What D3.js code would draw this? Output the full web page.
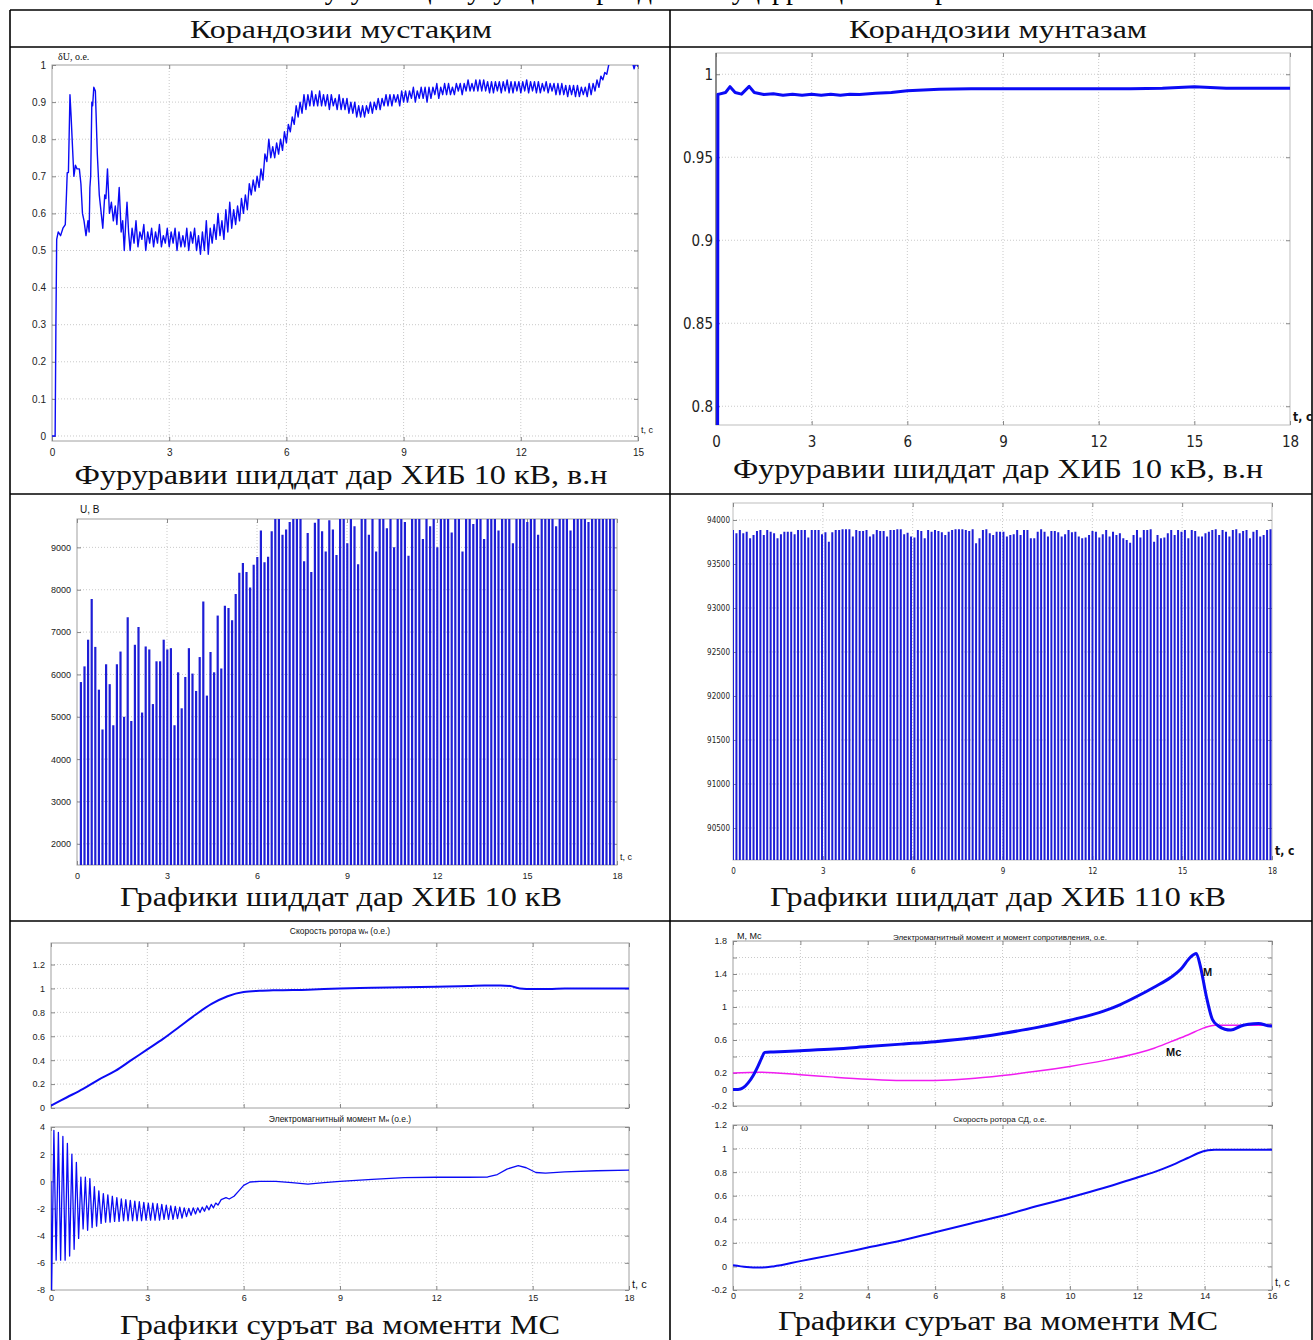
<!DOCTYPE html>
<html><head><meta charset="utf-8">
<script src="https://cdn.jsdelivr.net/npm/d3@7"></script>
<style>
body{margin:0;background:#fff}
svg{display:block}
</style></head><body>
<script>
// ---------- data ----------
var headers = ['Корандозии мустақим', 'Корандозии мунтазам'];
var captions = ['Фуруравии шиддат дар ХИБ 10 кВ, в.н', 'Фуруравии шиддат дар ХИБ 10 кВ, в.н',
                'Графики шиддат дар ХИБ 10 кВ', 'Графики шиддат дар ХИБ 110 кВ',
                'Графики суръат ва моменти МС', 'Графики суръат ва моменти МС'];

// panel 1: voltage dip, direct start (t, value)
var p1T = [0, 0.08, 0.1, 0.12, 0.16, 0.22, 0.28, 0.34, 0.37, 0.39, 0.42, 0.46, 0.49, 0.52, 0.56, 0.6, 0.64, 0.7, 0.74, 0.78, 0.82, 0.87, 0.92, 0.95, 0.97, 0.99, 1.02, 1.04, 1.07, 1.11, 1.16, 1.21, 1.26, 1.3, 1.35, 1.38, 1.42, 1.47, 1.52, 1.57, 1.62, 1.66, 1.72, 1.77, 1.81, 1.85, 1.89, 1.92, 1.96];
var p1V = [0, 0, 0.3, 0.53, 0.55, 0.54, 0.56, 0.57, 0.65, 0.71, 0.71, 0.92, 0.86, 0.79, 0.7, 0.73, 0.72, 0.72, 0.68, 0.6, 0.58, 0.54, 0.58, 0.55, 0.67, 0.7, 0.9, 0.89, 0.94, 0.93, 0.76, 0.65, 0.6, 0.56, 0.65, 0.64, 0.72, 0.6, 0.63, 0.58, 0.62, 0.57, 0.67, 0.55, 0.58, 0.5, 0.58, 0.63, 0.55];
// from 2.0 s on, one sample every 0.05 s (one row = 0.5 s)
var p1BandStart = 2.0, p1BandStep = 0.05;
var p1Band = [
  0.50, 0.56, 0.52, 0.58, 0.51, 0.55, 0.53, 0.57, 0.50, 0.55,
  0.52, 0.56, 0.51, 0.55, 0.52, 0.57, 0.51, 0.54, 0.52, 0.56,
  0.51, 0.55, 0.52, 0.56, 0.50, 0.55, 0.51, 0.54, 0.51, 0.56,
  0.50, 0.55, 0.52, 0.56, 0.50, 0.54, 0.49, 0.55, 0.50, 0.58,
  0.49, 0.56, 0.52, 0.57, 0.53, 0.60, 0.54, 0.58, 0.53, 0.61,
  0.55, 0.63, 0.56, 0.61, 0.57, 0.62, 0.58, 0.64, 0.60, 0.65,
  0.61, 0.68, 0.65, 0.69, 0.66, 0.70, 0.67, 0.72, 0.69, 0.76,
  0.74, 0.80, 0.75, 0.78, 0.75, 0.79, 0.76, 0.80, 0.77, 0.82,
  0.79, 0.84, 0.82, 0.86, 0.84, 0.89, 0.86, 0.90, 0.87, 0.92,
  0.88, 0.92, 0.89, 0.93, 0.89, 0.92, 0.89, 0.93, 0.89, 0.92,
  0.89, 0.92, 0.88, 0.92, 0.89, 0.91, 0.88, 0.92, 0.88, 0.91,
  0.88, 0.91, 0.87, 0.90, 0.87, 0.90, 0.86, 0.89, 0.86, 0.89,
  0.86, 0.89, 0.87, 0.90, 0.87, 0.90, 0.88, 0.91, 0.88, 0.91,
  0.89, 0.92, 0.89, 0.92, 0.89, 0.92, 0.90, 0.92, 0.89, 0.93,
  0.90, 0.93, 0.90, 0.93, 0.91, 0.94, 0.90, 0.93, 0.91, 0.94,
  0.91, 0.94, 0.90, 0.94, 0.91, 0.94, 0.92, 0.95, 0.91, 0.94,
  0.92, 0.95, 0.92, 0.95, 0.92, 0.94, 0.92, 0.95, 0.93, 0.95,
  0.92, 0.95, 0.93, 0.96, 0.93, 0.95, 0.93, 0.96, 0.93, 0.96,
  0.93, 0.96, 0.93, 0.955, 0.925, 0.955, 0.925, 0.955, 0.93, 0.955,
  0.925, 0.955, 0.93, 0.96, 0.925, 0.955, 0.925, 0.955, 0.93, 0.955,
  0.925, 0.955, 0.93, 0.96, 0.925, 0.955, 0.93, 0.955, 0.925, 0.955,
  0.925, 0.95, 0.93, 0.955, 0.925, 0.95, 0.93, 0.95, 0.92, 0.95,
  0.92, 0.95, 0.92, 0.945, 0.915, 0.945, 0.92, 0.945, 0.915, 0.945,
  0.915, 0.94, 0.92, 0.94, 0.915, 0.95, 0.92, 0.95, 0.93, 0.96,
  0.94, 0.97, 0.96, 0.98, 0.975, 1.0, 1.01, 1.01, 1.01, 1.01,
  1.01, 1.01, 1.01, 1.01, 1.01, 1.01, 1.01, 1.01, 0.99, 1.01,
  0.995];

// panel 2: voltage dip, soft start
var p2T = [0, 0.05, 0.06, 0.1, 0.3, 0.44, 0.6, 0.8, 1.04, 1.2, 1.5, 1.8, 2.1, 2.4, 2.7, 3, 3.3, 3.6, 3.9, 4.2, 4.5, 5, 5.5, 6, 6.5, 7, 8, 9, 10, 11, 12, 13, 14, 14.5, 15, 15.5, 16, 17, 18];
var p2V = [0.78, 0.78, 0.988, 0.988, 0.989, 0.9925, 0.989, 0.988, 0.9927, 0.989, 0.9878, 0.9882, 0.9874, 0.988, 0.9873, 0.9879, 0.9873, 0.9879, 0.9874, 0.988, 0.9878, 0.9885, 0.989, 0.99, 0.9905, 0.991, 0.9913, 0.9913, 0.9912, 0.9912, 0.9912, 0.9912, 0.9915, 0.992, 0.9925, 0.992, 0.9915, 0.9915, 0.9915];

// panel 3: 10 kV bus voltage peaks, V (first peak at 0.13 s, every 0.12 s)
var p3Start = 0.13, p3Step = 0.12;
var p3V = [5820, 6190, 6820, 7780, 6650, 5640, 4700, 6240, 5770, 4800,
  6240, 6540, 5000, 7350, 4900, 6700, 7120, 5100, 6660, 6590,
  5300, 6310, 6310, 6820, 6590, 6620, 4800, 6050, 5200, 5940,
  6620, 6020, 5610, 6410, 7720, 5500, 6530, 6050, 7390, 6140,
  7620, 7570, 7280, 7900, 8400, 8630, 8420, 8050, 8590, 8770,
  9400, 8650, 8780, 9380, 9700, 9700, 9300, 9420, 9600, 9700,
  9700, 9700, 8670, 9340, 8420, 9580, 9700, 9380, 8900, 9640,
  9420, 8820, 9700, 9700, 9100, 9700, 9500, 8600, 9700, 9700,
  9300, 9700, 8900, 9700, 9700, 9450, 9700, 9000, 9700, 9700,
  9600, 8800, 9700, 9700, 9700, 9200, 9700, 9500, 9700, 9000,
  9700, 9700, 9700, 9350, 9700, 9700, 8900, 9700, 9700, 9550,
  9700, 9700, 9200, 9700, 9700, 9700, 9400, 9700, 9700, 9700,
  9100, 9700, 9700, 9700, 9600, 9700, 9700, 9300, 9700, 9700,
  9700, 9700, 9500, 9700, 9700, 9700, 9400, 9700, 9700, 9700,
  9700, 9600, 9700, 9700, 9700, 9700, 9700, 9700, 9700];

// panel 4: 110 kV bus voltage peaks, V (0 .. 17.95 s)
var p4End = 17.95;
var p4V = [93886, 93850, 93886, 93850, 93867, 93792, 93830, 93875, 93886, 93830,
  93886, 93867, 93850, 93792, 93837, 93867, 93867, 93867, 93837, 93886,
  93886, 93886, 93800, 93886, 93886, 93886, 93837, 93860, 93754, 93860,
  93886, 93886, 93895, 93895, 93895, 93811, 93886, 93875, 93875, 93886,
  93811, 93837, 93886, 93875, 93875, 93811, 93886, 93886, 93895, 93895,
  93837, 93856, 93811, 93800, 93886, 93875, 93792, 93886, 93867, 93886,
  93875, 93860, 93830, 93867, 93886, 93895, 93895, 93895, 93886, 93875,
  93895, 93735, 93792, 93886, 93895, 93850, 93830, 93867, 93867, 93867,
  93811, 93830, 93837, 93886, 93830, 93886, 93886, 93792, 93792, 93867,
  93895, 93867, 93811, 93875, 93875, 93860, 93811, 93837, 93886, 93860,
  93867, 93811, 93792, 93800, 93830, 93875, 93867, 93800, 93837, 93886,
  93811, 93867, 93830, 93850, 93792, 93773, 93742, 93830, 93886, 93800,
  93886, 93886, 93895, 93754, 93830, 93792, 93800, 93850, 93886, 93830,
  93886, 93867, 93886, 93792, 93886, 93875, 93811, 93811, 93850, 93867,
  93886, 93895, 93830, 93886, 93867, 93811, 93886, 93895, 93850, 93875,
  93886, 93792, 93867, 93886, 93811, 93830, 93886, 93895];

// panel 5: rotor speed and torque, direct start
var p5wT = [0, 0.5, 1, 1.5, 2, 2.5, 3, 3.5, 4, 4.5, 5, 5.5, 6, 6.5, 7, 8, 9, 10, 11, 12, 13, 13.5, 14, 14.3, 14.6, 15, 15.5, 16, 17, 18];
var p5wV = [0.02, 0.09, 0.16, 0.24, 0.31, 0.4, 0.49, 0.58, 0.68, 0.78, 0.87, 0.935, 0.97, 0.98, 0.985, 0.99, 1.0, 1.005, 1.01, 1.015, 1.02, 1.025, 1.025, 1.02, 1.0, 0.995, 0.995, 1.0, 1.0, 1.0];
var p5mT = [0, 0.02, 0.09, 0.16, 0.23, 0.30, 0.37, 0.44, 0.51, 0.58, 0.65, 0.72, 0.79, 0.86, 0.93, 1.00, 1.07, 1.14, 1.21, 1.28, 1.35, 1.42, 1.49, 1.56, 1.63, 1.70, 1.77, 1.84, 1.91, 1.98,
  2.05, 2.12, 2.19, 2.26, 2.33, 2.40, 2.47, 2.54, 2.61, 2.68, 2.75, 2.82, 2.89, 2.96, 3.03, 3.10, 3.17, 3.24, 3.31, 3.38, 3.45, 3.52, 3.59, 3.66, 3.73, 3.80, 3.87, 3.94, 4.01, 4.08,
  4.15, 4.22, 4.29, 4.36, 4.43, 4.50, 4.57, 4.64, 4.71, 4.78, 4.85, 4.92, 4.99, 5.06, 5.13, 5.2, 5.3, 5.45, 5.55, 5.7, 5.85, 6.0, 6.2, 6.5, 7.0, 7.5, 8.0, 8.5, 9.0, 10.0,
  11.0, 12.0, 13.0, 13.6, 13.9, 14.2, 14.55, 14.8, 15.1, 15.4, 16, 17, 18];
var p5mV = [0, -8.0, 3.75, -5.8, 3.6, -5.8, 3.3, -5.8, 2.8, -5.5, 2.0, -5.0, 1.4, -4.2, 0.3, -3.5, 0.3, -3.6, 0.2, -3.4, -0.4, -3.3, -0.7, -3.1, -0.9, -3.0, -1.0, -3.0, -1.1, -2.95,
  -1.2, -2.95, -1.3, -2.9, -1.35, -2.9, -1.4, -2.9, -1.45, -2.9, -1.5, -2.9, -1.55, -2.85, -1.6, -2.85, -1.6, -2.85, -1.65, -2.85, -1.7, -2.8, -1.75, -2.8, -1.8, -2.8, -1.85, -2.75, -1.9, -2.7,
  -1.95, -2.6, -2.0, -2.5, -1.95, -2.4, -1.95, -2.3, -1.9, -2.2, -1.8, -2.1, -1.7, -1.95, -1.6, -1.75, -1.35, -1.2, -1.3, -1.1, -0.7, -0.3, -0.05, 0.0, 0.0, -0.1, -0.2, -0.1, 0.0, 0.15,
  0.28, 0.3, 0.3, 0.32, 0.5, 0.9, 1.15, 1.0, 0.65, 0.6, 0.7, 0.78, 0.82];

// panel 6: torque M, load torque Mc and speed, soft start
var p6mT = [0, 0.15, 0.3, 0.45, 0.6, 0.75, 0.85, 0.94, 1.2, 2, 3, 4, 5, 6, 7, 8, 9, 10, 11, 11.5, 12, 12.5, 13, 13.3, 13.57, 13.75, 13.87, 14.05, 14.23, 14.41, 14.6, 14.78, 15.08, 15.3, 15.6, 15.95, 16];
var p6mV = [0, 0.0, 0.02, 0.08, 0.17, 0.29, 0.38, 0.45, 0.455, 0.47, 0.49, 0.52, 0.55, 0.58, 0.62, 0.68, 0.75, 0.84, 0.95, 1.03, 1.13, 1.24, 1.36, 1.46, 1.6, 1.65, 1.5, 1.13, 0.85, 0.77, 0.73, 0.72, 0.77, 0.79, 0.8, 0.77, 0.77];
var p6cT = [0, 0.8, 2, 3, 4, 5, 6, 7, 8, 9, 10, 11, 12, 12.5, 13, 13.5, 14, 14.3, 15, 16];
var p6cV = [0.2, 0.21, 0.18, 0.15, 0.125, 0.11, 0.11, 0.13, 0.17, 0.22, 0.28, 0.35, 0.44, 0.5, 0.58, 0.66, 0.75, 0.78, 0.78, 0.78];
var p6wT = [0, 0.4, 0.8, 1.2, 2, 3, 4, 5, 6, 7, 8, 9, 10, 11, 12, 12.5, 13, 13.5, 13.8, 14.1, 14.3, 15, 16];
var p6wV = [0.01, -0.005, -0.01, 0.0, 0.045, 0.1, 0.16, 0.22, 0.29, 0.36, 0.43, 0.51, 0.585, 0.665, 0.755, 0.8, 0.855, 0.92, 0.96, 0.985, 0.99, 0.99, 0.99];

var ticks18 = [0, 3, 6, 9, 12, 15, 18];
var ticks15 = [0, 3, 6, 9, 12, 15];
var ticks16 = [0, 2, 4, 6, 8, 10, 12, 14, 16];

// ---------- drawing ----------
var W = 1313, H = 1340;
var BLUE = '#0b0bf5', BAR = '#1e1ed6';
var SANS = "'Liberation Sans', Arial, sans-serif";
var NARROW = "'Liberation Sans Narrow', 'DejaVu Sans Condensed', 'Liberation Sans', sans-serif";
var SERIF = "'Liberation Serif', 'Times New Roman', serif";
var svg = d3.select('body').append('svg').attr('width', W).attr('height', H);
var clipN = 0;

function fmt(d) { return String(+d.toFixed(4)); }
function zip(a, b) { return a.map(function(v, i){ return [v, b[i]]; }); }

function drawAxes(o) {
	var g = svg.append('g');
	var x = d3.scaleLinear().domain(o.xd).range([o.left, o.right]);
	var y = d3.scaleLinear().domain(o.yd).range([o.bottom, o.top]);
	var gridY = o.ygrid || o.yt;
	g.selectAll('line.gx').data(o.xt.filter(function(d){ return x(d) > o.left + 1 && x(d) < o.right - 1; }))
		.enter().append('line')
		.attr('x1', x).attr('x2', x).attr('y1', o.top).attr('y2', o.bottom)
		.attr('stroke', '#c9c9c9').attr('stroke-dasharray', '1,2');
	g.selectAll('line.gy').data(gridY.filter(function(d){ return y(d) > o.top + 1 && y(d) < o.bottom - 1; }))
		.enter().append('line')
		.attr('y1', y).attr('y2', y).attr('x1', o.left).attr('x2', o.right)
		.attr('stroke', '#c9c9c9').attr('stroke-dasharray', '1,2');
	g.append('rect')
		.attr('x', o.left).attr('y', o.top).attr('width', o.right - o.left).attr('height', o.bottom - o.top)
		.attr('fill', 'none').attr('stroke', o.boxColor || '#a0a0a0');

	var ylab = o.ylab || o.yt;
	var ax = g.append('g').attr('transform', 'translate(0,' + o.bottom + ')')
		.call(d3.axisBottom(x).tickValues(o.xt).tickSize(-4).tickSizeOuter(0).tickPadding(o.xpad || 9)
			.tickFormat(o.noX ? '' : fmt));
	var ay = g.append('g').attr('transform', 'translate(' + o.left + ',0)')
		.call(d3.axisLeft(y).tickValues(gridY).tickSize(-4).tickSizeOuter(0).tickPadding(o.ypad || 6)
			.tickFormat(function(d){ return ylab.indexOf(d) >= 0 ? fmt(d) : ''; }));
	var at = g.append('g').attr('transform', 'translate(0,' + o.top + ')')
		.call(d3.axisTop(x).tickValues(o.xt).tickSize(-4).tickSizeOuter(0).tickFormat(''));
	var ar = g.append('g').attr('transform', 'translate(' + o.right + ',0)')
		.call(d3.axisRight(y).tickValues(gridY).tickSize(-4).tickSizeOuter(0).tickFormat(''));
	[ax, ay, at, ar].forEach(function(a){
		a.select('.domain').remove();
		a.selectAll('line').attr('stroke', '#888');
		a.selectAll('text').attr('font-family', o.font || SANS).attr('font-size', o.fs || 10).attr('fill', '#222');
	});
	if (o.leftLine) {
		g.append('line').attr('x1', o.left).attr('x2', o.left).attr('y1', o.top).attr('y2', o.bottom)
			.attr('stroke', o.leftLine).attr('stroke-width', 1.2);
	}

	var id = 'clip' + (clipN++);
	svg.append('clipPath').attr('id', id).append('rect')
		.attr('x', o.left).attr('y', o.top).attr('width', o.right - o.left).attr('height', o.bottom - o.top);
	var plot = g.append('g').attr('clip-path', 'url(#' + id + ')');
	return { g: g, x: x, y: y, plot: plot };
}

function drawLine(p, data, color, width, smooth) {
	var line = d3.line().x(function(d){ return p.x(d[0]); }).y(function(d){ return p.y(d[1]); })
		.curve(smooth ? d3.curveMonotoneX : d3.curveLinear);
	p.plot.append('path').datum(data)
		.attr('d', line).attr('fill', 'none').attr('stroke', color)
		.attr('stroke-width', width).attr('stroke-linejoin', 'round');
}

function drawBars(p, data, width) {
	p.plot.selectAll('line.bar').data(data).enter().append('line')
		.attr('x1', function(d){ return p.x(d[0]); }).attr('x2', function(d){ return p.x(d[0]); })
		.attr('y1', p.y(p.y.domain()[0])).attr('y2', function(d){ return p.y(d[1]); })
		.attr('stroke', BAR).attr('stroke-width', width);
}

function label(x, y, txt, size, family, anchor, weight) {
	return svg.append('text').attr('x', x).attr('y', y).text(txt)
		.attr('font-size', size).attr('font-family', family)
		.attr('text-anchor', anchor || 'start').attr('font-weight', weight || 'normal').attr('fill', '#111');
}

// ---- table frame ----
var T = { left: 10, right: 1312, top: 10, head: 47, r1: 494, r2: 921, mid: 670 };
// first line of the page title, cut by the top edge in the source
svg.append('text').attr('x', 650).attr('y', -1).attr('text-anchor', 'middle')
	.attr('font-family', SERIF).attr('font-size', 28)
	.text('Хусусиятҳои усулҳои корандозии муҳаррикҳои синхронӣ');
[T.top, T.head, T.r1, T.r2].forEach(function(yy){
	svg.append('line').attr('x1', T.left).attr('x2', T.right).attr('y1', yy).attr('y2', yy)
		.attr('stroke', '#000').attr('stroke-width', 1.6);
});
[T.left, T.mid, T.right].forEach(function(xx){
	svg.append('line').attr('x1', xx).attr('x2', xx).attr('y1', T.top).attr('y2', H)
		.attr('stroke', '#000').attr('stroke-width', 1.6);
});

label(341, 38, headers[0], 26, SERIF, 'middle').attr('textLength', 302).attr('lengthAdjust', 'spacingAndGlyphs');
label(998, 38, headers[1], 26, SERIF, 'middle').attr('textLength', 298).attr('lengthAdjust', 'spacingAndGlyphs');

var capPos = [[341, 484, 533], [998, 478, 530], [341, 906, 442], [998, 906, 456], [340, 1334, 440], [998, 1330, 440]];
captions.forEach(function(c, i){
	label(capPos[i][0], capPos[i][1], c, 28, SERIF, 'middle')
		.attr('textLength', capPos[i][2]).attr('lengthAdjust', 'spacingAndGlyphs');
});

// ---- panel 1 ----
var a1 = drawAxes({ left: 52, right: 638, top: 65, bottom: 441, xd: [0, 15], yd: [-0.0135, 1],
	xt: ticks15, yt: [0, 0.1, 0.2, 0.3, 0.4, 0.5, 0.6, 0.7, 0.8, 0.9, 1], fs: 10, xpad: 8 });
var p1Data = zip(p1T, p1V).concat(p1Band.map(function(v, i){ return [p1BandStart + i * p1BandStep, v]; }));
drawLine(a1, p1Data, BLUE, 1.4);
label(58, 60, 'δU, o.e.', 10, SERIF);
label(641, 433, 't, c', 9, SANS);

// ---- panel 2 ----
var a2 = drawAxes({ left: 716, right: 1290, top: 53, bottom: 425, xd: [0, 18], yd: [0.7887, 1.0128],
	xt: ticks18, yt: [0.8, 0.85, 0.9, 0.95, 1], fs: 15, font: NARROW, xpad: 11, ypad: 3,
	boxColor: '#bdbdbd', leftLine: '#555' });
drawLine(a2, zip(p2T, p2V), BLUE, 3);
label(1293, 421, 't, c', 12, NARROW, 'start', 'bold');

// ---- panel 3 ----
var a3 = drawAxes({ left: 77, right: 617, top: 519, bottom: 865, xd: [0, 18], yd: [1500, 9670],
	xt: ticks18, yt: [2000, 3000, 4000, 5000, 6000, 7000, 8000, 9000], fs: 9, xpad: 8 });
drawBars(a3, p3V.map(function(v, i){ return [p3Start + i * p3Step, v]; }), 2.2);
label(80, 513, 'U, B', 10, SANS);
label(620, 860, 't, c', 9, SANS);

// ---- panel 4 ----
var a4 = drawAxes({ left: 733, right: 1272, top: 503, bottom: 860, xd: [0, 18], yd: [90136, 94193],
	xt: ticks18, yt: [90500, 91000, 91500, 92000, 92500, 93000, 93500, 94000], fs: 8, font: NARROW, xpad: 8, ypad: 3,
	boxColor: '#bdbdbd' });
var p4Step = p4End / (p4V.length - 1);
drawBars(a4, p4V.map(function(v, i){ return [i * p4Step, v]; }), 2);
label(1275, 855, 't, c', 12, NARROW, 'start', 'bold');

// ---- panel 5 ----
var a5a = drawAxes({ left: 51, right: 629, top: 943, bottom: 1108, xd: [0, 18], yd: [0, 1.38],
	xt: ticks18, yt: [0, 0.2, 0.4, 0.6, 0.8, 1, 1.2], fs: 9, noX: true });
drawLine(a5a, zip(p5wT, p5wV), BLUE, 2, true);
var t5a = label(340, 934, 'Скорость ротора  w', 8.5, SANS, 'middle');
t5a.append('tspan').attr('font-size', 6).text('н');
t5a.append('tspan').text(' (о.е.)');
var a5b = drawAxes({ left: 51, right: 629, top: 1127, bottom: 1290, xd: [0, 18], yd: [-8, 4],
	xt: ticks18, yt: [-8, -6, -4, -2, 0, 2, 4], fs: 9, xpad: 5 });
drawLine(a5b, zip(p5mT, p5mV), BLUE, 1.3);
var t5b = label(340, 1122, 'Электромагнитный момент  M', 8.5, SANS, 'middle');
t5b.append('tspan').attr('font-size', 6).text('н');
t5b.append('tspan').text(' (о.е.)');
label(632, 1288, 't, c', 11, SANS);

// ---- panel 6 ----
var a6a = drawAxes({ left: 733, right: 1272, top: 941, bottom: 1106, xd: [0, 16], yd: [-0.2, 1.8],
	xt: ticks16, yt: [-0.2, 0, 0.2, 0.6, 1, 1.4, 1.8],
	ygrid: [-0.2, 0, 0.2, 0.4, 0.6, 0.8, 1, 1.2, 1.4, 1.6, 1.8], fs: 9, noX: true });
drawLine(a6a, zip(p6cT, p6cV), '#f01cf0', 1.5, true);
drawLine(a6a, zip(p6mT, p6mV), BLUE, 3, true);
label(737, 939, 'M, Mc', 9, SANS);
label(1000, 940, 'Электромагнитный момент и момент сопротивления, о.е.', 8, SANS, 'middle');
label(1203, 976, 'M', 11, SANS, 'start', 'bold');
label(1166, 1056, 'Mc', 11, SANS, 'start', 'bold');
var a6b = drawAxes({ left: 733, right: 1272, top: 1125, bottom: 1290, xd: [0, 16], yd: [-0.2, 1.2],
	xt: ticks16, yt: [-0.2, 0, 0.2, 0.4, 0.6, 0.8, 1, 1.2], fs: 9, xpad: 3 });
drawLine(a6b, zip(p6wT, p6wV), BLUE, 2, true);
label(741, 1131, 'ω', 11, SERIF);
label(1000, 1122, 'Скорость ротора СД, о.е.', 8, SANS, 'middle');
label(1275, 1286, 't, c', 11, SANS);
</script>
</body></html>
